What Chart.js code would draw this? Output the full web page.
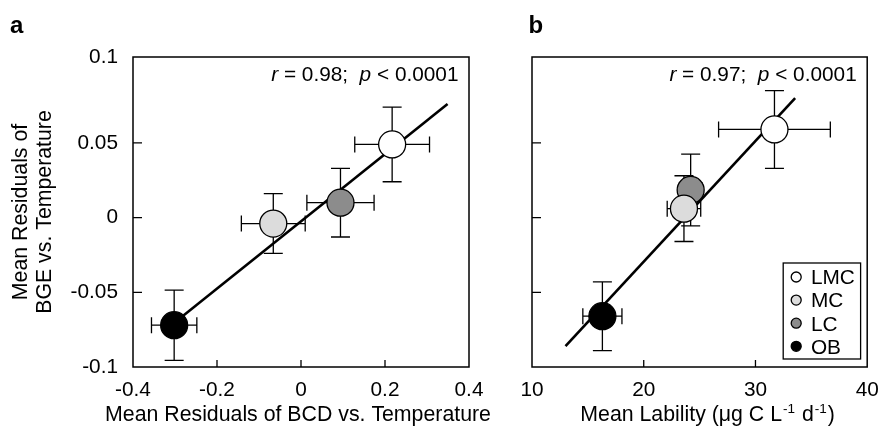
<!DOCTYPE html>
<html>
<head>
<meta charset="utf-8">
<script src="https://cdn.jsdelivr.net/npm/chart.js@4.4.0/dist/chart.umd.min.js"></script>
<style>
html, body { margin: 0; padding: 0; background: #fff; }
#wrap { position: relative; width: 882px; height: 434px; overflow: hidden; }
.cv { position: absolute; top: 0; height: 434px; }
</style>
</head>
<body>
<div id="wrap">
  <div class="cv" style="left:0px;width:510px"><canvas id="ca"></canvas></div>
  <div class="cv" style="left:490px;width:392px"><canvas id="cb"></canvas></div>
</div>
<script>
// ---------- data ----------
const groups = ['LMC', 'MC', 'LC', 'OB'];

// panel a : residuals of BCD vs temperature (x) / residuals of BGE vs temperature (y)
const aX    = [0.217, -0.066, 0.094, -0.302];
const aY    = [0.049, -0.004, 0.010, -0.072];
const aXErr = [0.089, 0.076, 0.080, 0.054];
const aYErr = [0.025, 0.020, 0.023, 0.0235];
const aFitX = [-0.30, 0.349];
const aFitY = [-0.070, 0.076];

// panel b : mean lability (x) / residuals of BGE vs temperature (y)
const bX    = [31.7, 23.6, 24.2, 16.3];
const bY    = [0.059, 0.006, 0.0185, -0.066];
const bXErr = [5.0, 1.5, 1.0, 1.75];
const bYErr = [0.026, 0.022, 0.024, 0.023];
const bFitX = [13.0, 33.55];
const bFitY = [-0.086, 0.080];

// ticks
const aXTicks = [-0.4, -0.2, 0, 0.2, 0.4];
const bXTicks = [10, 20, 30, 40];
const yTicks = [-0.1, -0.05, 0, 0.05, 0.1];
const yTickLabels = ['-0.1', '-0.05', '0', '0.05', '0.1'];
const yFrameTop = 0.1075;   // the reference frame top (labelled 0.1) sits slightly above a regular 0.1

// texts (odd entries of the x titles are superscripts, even entries of annotations are italic)
const xTitleA = ['Mean Residuals of BCD vs. Temperature'];
const xTitleB = ['Mean Lability (\u03BCg C L', '-1', ' d', '-1', ')'];
const yTitleA = ['Mean Residuals of', 'BGE vs. Temperature'];
const annoA = ['r', ' = 0.98;  ', 'p', ' < 0.0001'];
const annoB = ['r', ' = 0.97;  ', 'p', ' < 0.0001'];

// ---------- styling ----------
const FONT = '"Liberation Sans", Arial, Helvetica, sans-serif';
const fills = ['#ffffff', '#dcdcdc', '#8c8c8c', '#000000'];
const FS = 20.8;   // tick / legend / annotation size
const TS = 21.3;   // axis title size

function decoPlugin(p) {
  return {
    id: 'deco',
    beforeDatasetsDraw(chart) {
      const ctx = chart.ctx, xs = chart.scales.x, ys = chart.scales.y;
      ctx.save();
      ctx.strokeStyle = '#000';
      ctx.lineWidth = 1.3;
      p.x.forEach((xv, i) => {
        const px = xs.getPixelForValue(xv), py = ys.getPixelForValue(p.y[i]);
        const x1 = xs.getPixelForValue(xv - p.xErr[i]), x2 = xs.getPixelForValue(xv + p.xErr[i]);
        const y1 = ys.getPixelForValue(p.y[i] - p.yErr[i]), y2 = ys.getPixelForValue(p.y[i] + p.yErr[i]);
        const cv = 9.5, ch = 8;
        ctx.beginPath();
        ctx.moveTo(x1, py); ctx.lineTo(x2, py);
        ctx.moveTo(x1, py - ch); ctx.lineTo(x1, py + ch);
        ctx.moveTo(x2, py - ch); ctx.lineTo(x2, py + ch);
        ctx.moveTo(px, y1); ctx.lineTo(px, y2);
        ctx.moveTo(px - cv, y1); ctx.lineTo(px + cv, y1);
        ctx.moveTo(px - cv, y2); ctx.lineTo(px + cv, y2);
        ctx.stroke();
      });
      ctx.restore();
    },
    afterDraw(chart) {
      const ctx = chart.ctx, ca = chart.chartArea, xs = chart.scales.x, ys = chart.scales.y;
      ctx.save();
      // frame
      ctx.strokeStyle = '#000';
      ctx.lineWidth = 1.5;
      ctx.strokeRect(ca.left, ca.top, ca.right - ca.left, ca.bottom - ca.top);
      // inward tick marks
      ctx.lineWidth = 1.3;
      ctx.beginPath();
      p.xTicks.forEach(v => {
        if (v > xs.min && v < xs.max) {
          const x = xs.getPixelForValue(v);
          ctx.moveTo(x, ca.bottom); ctx.lineTo(x, ca.bottom - 7);
        }
      });
      yTicks.forEach(v => {
        if (v > ys.min && v < 0.1) {
          const y = ys.getPixelForValue(v);
          ctx.moveTo(ca.left, y); ctx.lineTo(ca.left + 9, y);
        }
      });
      ctx.stroke();
      ctx.fillStyle = '#000';
      ctx.textBaseline = 'alphabetic';
      ctx.textAlign = 'left';
      // x axis title (with superscripts)
      const segFont = i => (i % 2 === 1 ? '13.5px ' : TS + 'px ') + FONT;
      let tw = 0;
      const tws = p.xTitle.map((t, i) => { ctx.font = segFont(i); const m = ctx.measureText(t).width; tw += m; return m; });
      let tx = (ca.left + ca.right) / 2 + p.titleShift - tw / 2;
      p.xTitle.forEach((t, i) => {
        ctx.font = segFont(i);
        ctx.fillText(t, tx + (i % 2 === 1 ? 1 : 0), 421 - (i % 2 === 1 ? 8 : 0));
        tx += tws[i] + (i % 2 === 1 ? 2 : 0);
      });
      // annotation (r, p italic)
      let w = 0;
      const widths = p.anno.map((t, i) => {
        ctx.font = (i % 2 === 0 ? 'italic ' : '') + FS + 'px ' + FONT;
        const m = ctx.measureText(t).width; w += m; return m;
      });
      let ax = ca.right - 10.5 - w;
      p.anno.forEach((t, i) => {
        ctx.font = (i % 2 === 0 ? 'italic ' : '') + FS + 'px ' + FONT;
        ctx.fillText(t, ax, ca.top + 23.5);
        ax += widths[i];
      });
      // panel letter
      ctx.font = 'bold 24px ' + FONT;
      ctx.fillText(p.letter, p.letterX, 32.5);
      // legend
      if (p.legend) {
        const bw = 77.4, bh = 96;
        const bx = ca.right - 6.6 - bw, by = ca.bottom - 8 - bh;
        ctx.fillStyle = '#fff';
        ctx.fillRect(bx, by, bw, bh);
        ctx.lineWidth = 1.3;
        ctx.strokeRect(bx, by, bw, bh);
        ctx.font = FS + 'px ' + FONT;
        chart.data.datasets.forEach((ds, i) => {
          if (!groups.includes(ds.label)) return;
          const cy = by + 14 + i * 23.1;
          ctx.beginPath();
          ctx.arc(bx + 13, cy, 5, 0, Math.PI * 2);
          ctx.fillStyle = ds.pointBackgroundColor;
          ctx.fill();
          ctx.strokeStyle = '#000';
          ctx.stroke();
          ctx.fillStyle = '#000';
          ctx.fillText(ds.label, bx + 27.7, cy + 7.3);
        });
      }
      ctx.restore();
    }
  };
}

function build(id, p) {
  const datasets = groups.map((g, i) => ({
    label: g,
    data: [{ x: p.x[i], y: p.y[i] }],
    pointRadius: 13.5,
    pointHoverRadius: 13.5,
    pointBackgroundColor: fills[i],
    pointBorderColor: '#000',
    pointBorderWidth: 1.3,
    order: 1
  }));
  datasets.push({
    type: 'line',
    label: 'fit',
    data: p.fitX.map((x, i) => ({ x: x, y: p.fitY[i] })),
    borderColor: '#000',
    borderWidth: 2.6,
    pointRadius: 0,
    fill: false,
    order: 10
  });
  return new Chart(document.getElementById(id), {
    type: 'scatter',
    data: { datasets: datasets },
    options: {
      responsive: true,
      maintainAspectRatio: false,
      animation: false,
      events: [],
      layout: { padding: { top: 57, right: p.padRight, left: 0, bottom: 0 } },
      plugins: { legend: { display: false }, tooltip: { enabled: false } },
      scales: {
        x: {
          type: 'linear',
          min: p.xTicks[0],
          max: p.xTicks[p.xTicks.length - 1],
          afterBuildTicks: s => { s.ticks = p.xTicks.map(v => ({ value: v })); },
          ticks: {
            font: { family: FONT, size: FS }, color: '#000', padding: 11,
            maxRotation: 0, autoSkip: false, callback: v => String(v)
          },
          grid: { display: false, drawTicks: false },
          border: { display: false },
          title: { display: false },
          afterFit: s => { s.height = 67; s.paddingLeft = 0; s.paddingRight = 0; }
        },
        y: {
          type: 'linear',
          min: yTicks[0],
          max: yFrameTop,
          afterBuildTicks: s => {
            s.ticks = yTicks.map(v => ({ value: v === yTicks[yTicks.length - 1] ? yFrameTop : v }));
          },
          ticks: {
            display: p.yLabels,
            font: { family: FONT, size: FS }, color: '#000', padding: 15,
            autoSkip: false, callback: (v, i) => yTickLabels[i]
          },
          grid: { display: false, drawTicks: false },
          border: { display: false },
          title: {
            display: !!p.yTitle, text: p.yTitle || '', color: '#000',
            font: { family: FONT, size: TS, lineHeight: 1.127 },
            padding: { top: 9.5, bottom: 0 }
          },
          afterFit: s => { s.width = p.yWidth; s.paddingTop = 0; s.paddingBottom = 0; }
        }
      }
    },
    plugins: [decoPlugin(p)]
  });
}

build('ca', {
  x: aX, y: aY, xErr: aXErr, yErr: aYErr, fitX: aFitX, fitY: aFitY,
  xTicks: aXTicks, anno: annoA, letter: 'a', letterX: 10, legend: false,
  xTitle: xTitleA, titleShift: -3, yTitle: yTitleA,
  yLabels: true, yWidth: 133, padRight: 41
});

build('cb', {
  x: bX, y: bY, xErr: bXErr, yErr: bYErr, fitX: bFitX, fitY: bFitY,
  xTicks: bXTicks, anno: annoB, letter: 'b', letterX: 38.5, legend: true,
  xTitle: xTitleB, titleShift: 6, yTitle: null,
  yLabels: false, yWidth: 42, padRight: 14
});
</script>
</body>
</html>
